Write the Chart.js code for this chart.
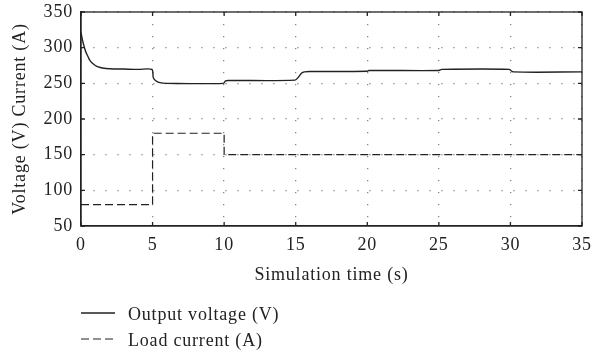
<!DOCTYPE html>
<html>
<head>
<meta charset="utf-8">
<script src="https://cdn.jsdelivr.net/npm/chart.js@4"></script>
<style>
  body { margin: 0; background: #fff; }
  #wrap { width: 593px; height: 359px; }
</style>
</head>
<body>
<div id="wrap"><canvas id="myLineChart" width="593" height="359"></canvas></div>
<script>
// values
const voltageTime = [0, 0.1, 0.2, 0.3, 0.4, 0.5, 0.6, 0.8, 1.0, 1.2, 1.5, 2, 3, 4, 4.95,
  5.05, 5.2, 5.5, 6, 9.95, 10.1, 10.3, 14.95, 15.2, 15.4, 15.6, 16, 20, 20.1,
  25, 25.2, 29.9, 30.2, 35];
const voltageValues = [321, 311, 303, 296, 291, 287, 283, 278, 275, 273, 271.5, 270.5, 270, 269.5, 269.5,
  258, 254, 251, 250, 250, 253.5, 254, 254.5, 259, 264, 266, 266.5, 267, 268,
  268, 269.5, 269.5, 266, 266];
const currentTime = [0, 5, 5, 10, 10, 35];
const currentValues = [80, 80, 180, 180, 150, 150];

const xTicks = [0, 5, 10, 15, 20, 25, 30, 35];
const yTicks = [50, 100, 150, 200, 250, 300, 350];

const seriesLabels = ["Output voltage (V)", "Load current (A)"];

const toPoints = (xs, ys) => xs.map((x, i) => ({ x: x, y: ys[i] }));

const serif = "'Liberation Serif', 'Times New Roman', serif";
Chart.defaults.font.family = serif;
Chart.defaults.color = "#222";

// the original font is a bit wider than Liberation Serif
const spacingPlugin = {
    id: "spacing",
    beforeLayout(chart) { chart.ctx.letterSpacing = "0.8px"; },
    beforeDraw(chart) { chart.ctx.letterSpacing = "0.8px"; },
};

// frame, inward ticks and the legend under the plot
const framePlugin = {
    id: "frame",
    afterDraw(chart) {
        const ctx = chart.ctx;
        const area = chart.chartArea;
        const xs = chart.scales.x;
        const ys = chart.scales.y;
        ctx.save();
        ctx.strokeStyle = "#222";
        ctx.lineWidth = 1.3;
        ctx.strokeRect(area.left, area.top, area.right - area.left, area.bottom - area.top);
        ctx.beginPath();
        xTicks.forEach(v => {
            const px = xs.getPixelForValue(v);
            ctx.moveTo(px, area.bottom); ctx.lineTo(px, area.bottom - 4);
            ctx.moveTo(px, area.top); ctx.lineTo(px, area.top + 4);
        });
        yTicks.forEach(v => {
            const py = ys.getPixelForValue(v);
            ctx.moveTo(area.left, py); ctx.lineTo(area.left + 4, py);
            ctx.moveTo(area.right, py); ctx.lineTo(area.right - 4, py);
        });
        ctx.stroke();

        // legend
        ctx.font = "18px " + serif;
        ctx.fillStyle = "#222";
        ctx.textBaseline = "middle";
        chart.data.datasets.forEach((ds, i) => {
            const y = 313 + i * 26;
            ctx.setLineDash(ds.borderDash || []);
            ctx.lineWidth = ds.borderWidth;
            ctx.strokeStyle = ds.borderColor;
            ctx.beginPath();
            ctx.moveTo(area.left, y);
            ctx.lineTo(area.left + 34, y);
            ctx.stroke();
            ctx.setLineDash([]);
            ctx.fillText(ds.label, area.left + 47, y + 2);
        });
        ctx.restore();
    }
};

const ctx = document.getElementById("myLineChart");
new Chart(ctx, {
    type: "line",
    data: {
        datasets: [{
            label: seriesLabels[0],
            data: toPoints(voltageTime, voltageValues),
            borderColor: "#222",
            borderWidth: 1.4,
            pointRadius: 0,
            tension: 0.3,
            fill: false,
        }, {
            label: seriesLabels[1],
            data: toPoints(currentTime, currentValues),
            borderColor: "#222",
            borderWidth: 1.2,
            borderDash: [8, 4],
            pointRadius: 0,
            tension: 0,
            fill: false,
        }],
    },
    options: {
        responsive: false,
        devicePixelRatio: 1,
        animation: false,
        layout: { padding: { left: 0, top: 12, right: 11, bottom: 73 } },
        plugins: {
            legend: { display: false },
            tooltip: { enabled: false },
        },
        scales: {
            x: {
                type: "linear",
                min: 0,
                max: 35,
                afterBuildTicks: scale => { scale.ticks = xTicks.map(v => ({ value: v })); },
                afterFit: scale => { scale.height = 60; scale.paddingLeft = 0; scale.paddingRight = 0; },
                ticks: { font: { size: 18 }, padding: 8, color: "#222", maxRotation: 0 },
                grid: { color: "#888", lineWidth: 1.3, drawTicks: false },
                border: { color: "#222", width: 1.3, dash: [1.3, 10.7] },
                title: { display: true, text: "Simulation time (s)", font: { size: 18 }, color: "#222", padding: { top: 0, bottom: 0 } },
            },
            y: {
                min: 50,
                max: 350,
                afterBuildTicks: scale => { scale.ticks = yTicks.map(v => ({ value: v })); },
                afterFit: scale => { scale.width = 81; scale.paddingTop = 0; scale.paddingBottom = 0; },
                ticks: { font: { size: 18 }, padding: 8, color: "#222" },
                grid: { color: "#888", lineWidth: 1.3, drawTicks: false },
                border: { color: "#222", width: 1.3, dash: [1.3, 10.7] },
                title: { display: true, text: "Voltage (V) Current (A)", font: { size: 18 }, color: "#222", padding: { top: 9, bottom: 0 } },
            },
        },
    },
    plugins: [spacingPlugin, framePlugin],
});
</script>
</body>
</html>
